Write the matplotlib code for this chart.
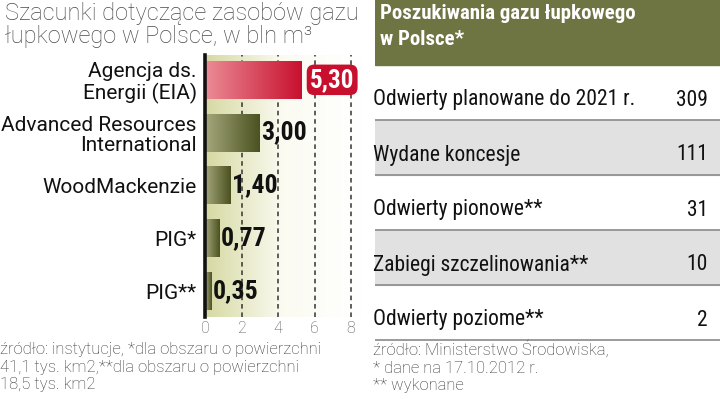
import numpy as np
import matplotlib.pyplot as plt
from matplotlib.colors import LinearSegmentedColormap

# left chart: estimates of shale gas resources (bln m3)
sources = ["Agencja ds.\nEnergii (EIA)", "Advanced Resources\nInternational",
           "WoodMackenzie", "PIG*", "PIG**"]
estimates = [5.30, 3.00, 1.40, 0.77, 0.35]
value_labels = ["5,30", "3,00", "1,40", "0,77", "0,35"]
x_ticks = [0, 2, 4, 6, 8]

# right table: exploration in Poland
table_rows = ["Odwierty planowane do 2021 r.", "Wydane koncesje", "Odwierty pionowe**",
              "Zabiegi szczelinowania**", "Odwierty poziome**"]
table_values = [309, 111, 31, 10, 2]

COND = ['Roboto Condensed', 'DejaVu Sans']
SANS = ['Roboto', 'DejaVu Sans']

W, H = 720, 399
fig = plt.figure(figsize=(W / 100, H / 100), dpi=100)


def box(l, t, r, b):
    return [l / W, 1 - b / H, (r - l) / W, (b - t) / H]


fig.text(5 / W, 1 - 2 / H, "Szacunki dotyczące zasobów gazu\nłupkowego w Polsce, w bln m³",
         va='top', ha='left', fontsize=17, color='#4a4a4a', family=SANS,
         fontweight='light', linespacing=0.98)

ax = fig.add_axes(box(205, 55, 362, 317))
xmax = 8.6
n = len(sources)
y_lo, y_hi = n - 0.51, -0.47
grad = np.linspace(0, 1, 256).reshape(1, -1)

bg_cmap = LinearSegmentedColormap.from_list('bg', ['#d6d9a2', '#fbfbf2', '#ffffff'])
ax.imshow(grad, extent=[0, xmax, y_lo, y_hi], aspect='auto', cmap=bg_cmap, zorder=0)

for t in x_ticks[1:]:
    ax.axvline(t, color='#333333', lw=1.1, ls=(0, (3, 2.5)), zorder=1)

red_cmap = LinearSegmentedColormap.from_list('red', ['#eb8c96', '#c8102e'])
olive_cmap = LinearSegmentedColormap.from_list('olive', ['#a5a87c', '#4b5120'])

bars = ax.barh(range(n), estimates, height=0.72, color='none', zorder=2)
for i, bar in enumerate(bars):
    x0, y0 = bar.get_x(), bar.get_y()
    im = ax.imshow(grad, extent=[x0, x0 + bar.get_width(), y0, y0 + bar.get_height()],
                   aspect='auto', cmap=red_cmap if i == 0 else olive_cmap, zorder=2)
    im.set_clip_path(bar)
    if i == 0:
        ax.text(estimates[i] + 0.45, i, value_labels[i], va='center', ha='left',
                color='white', fontsize=18, fontweight='bold', family=COND, zorder=3,
                bbox=dict(boxstyle='round,pad=0.13,rounding_size=0.3', fc='#c8102e', ec='none'))
    else:
        ax.text(estimates[i] + 0.1, i, value_labels[i], va='center', ha='left',
                color='#111111', fontsize=18.5, fontweight='bold', family=COND, zorder=3)

ax.set_xlim(0, xmax)
ax.set_ylim(y_lo, y_hi)
ax.set_yticks(range(n), sources)
ax.set_xticks(x_ticks, [str(t) for t in x_ticks])
for lab in ax.get_yticklabels():
    lab.set_family(SANS)
    lab.set_fontsize(15)
    lab.set_linespacing(1.08)
    lab.set_color('#111111')
for lab in ax.get_xticklabels():
    lab.set_family(SANS)
    lab.set_fontweight('light')
ax.tick_params(axis='y', length=0, pad=6)
ax.tick_params(axis='x', length=0, pad=3, labelsize=11.5, labelcolor='#555555')
for side in ['top', 'right', 'bottom']:
    ax.spines[side].set_visible(False)
ax.spines['left'].set_linewidth(2.6)
ax.spines['left'].set_color('#111111')
ax.spines['left'].set_zorder(4)

fig.text(0, 1 - 342 / H, "źródło: instytucje, *dla obszaru o powierzchni\n"
         "41,1 tys. km2,**dla obszaru o powierzchni\n18,5 tys. km2",
         va='top', ha='left', fontsize=12, color='#333333', family=SANS,
         fontweight='light', linespacing=1.22)

# table on the right
tax = fig.add_axes(box(375, 0, 720, H))
tax.set_xlim(0, 345)
tax.set_ylim(H, 0)
tax.axis('off')
tax.axhspan(0, 65, color='#6f7443')
tax.text(5, 4, "Poszukiwania gazu łupkowego\nw Polsce*", va='top', ha='left',
         color='white', fontsize=15, fontweight='bold', family=COND, linespacing=1.45)

for i, (label, val) in enumerate(zip(table_rows, table_values)):
    top = 65 + 55 * i
    if i % 2 == 1:
        tax.axhspan(top, top + 55, color='#e1e1e1')
    tax.axhline(top + 55, color='#8a8a8a', lw=1.2)
    tax.text(-2, top + 35, label, va='center', ha='left', fontsize=15.5,
             color='#111111', family=COND)
    tax.text(333, top + 35, str(val), va='center', ha='right', fontsize=15.5,
             color='#111111', family=COND)

tax.text(-2, 340, "źródło: Ministerstwo Środowiska,\n* dane na 17.10.2012 r.\n** wykonane",
         va='top', ha='left', fontsize=12, color='#333333', family=SANS,
         fontweight='light', linespacing=1.22, clip_on=False)

fig.savefig('out.png', dpi=100)
